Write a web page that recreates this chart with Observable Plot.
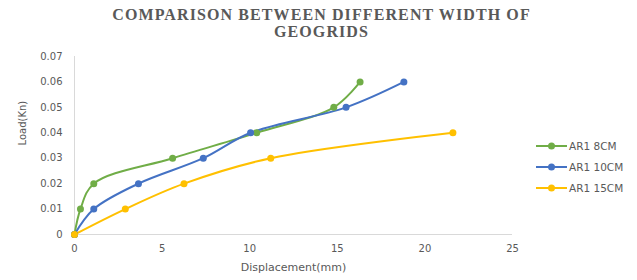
<!DOCTYPE html>
<html>
<head>
<meta charset="utf-8">
<script src="https://cdn.jsdelivr.net/npm/d3@7"></script>
<script src="https://cdn.jsdelivr.net/npm/@observablehq/plot@0.6"></script>
<style>
  html, body { margin: 0; padding: 0; background: #fff; }
  #wrap { position: relative; width: 637px; height: 280px; overflow: hidden; }
  #title { font-family: "Liberation Serif", "DejaVu Serif", serif; font-weight: bold; font-size: 16px; letter-spacing: 1.1px; color: #595959; text-align: center; line-height: 17px; padding-top: 6px; height: 42px; width: 637px; padding-left: 6px; box-sizing: border-box; }
  #legend { position: absolute; left: 536px; top: 135px; font-family: "DejaVu Sans", sans-serif; font-size: 10.5px; color: #595959; }
  .item { display: flex; align-items: center; height: 21px; }
  .item svg { margin-right: 2px; }
</style>
</head>
<body>
<div id="wrap">
  <div id="title">COMPARISON BETWEEN DIFFERENT WIDTH OF<br>GEOGRIDS</div>
  <div id="chart"></div>
  <div id="legend"></div>
</div>
<script>
const seriesNames = ["AR1 8CM", "AR1 10CM", "AR1 15CM"];
const seriesColors = ["#70AD47", "#4472C4", "#FFC000"];
const disp8 = [0, 0.34, 1.1, 5.6, 10.4, 14.8, 16.3];
const load8 = [0, 0.01, 0.02, 0.03, 0.04, 0.05, 0.06];
const disp10 = [0, 1.1, 3.65, 7.35, 10.05, 15.5, 18.8];
const load10 = [0, 0.01, 0.02, 0.03, 0.04, 0.05, 0.06];
const disp15 = [0, 2.9, 6.25, 11.2, 21.6];
const load15 = [0, 0.01, 0.02, 0.03, 0.04];
const xTicks = [0, 5, 10, 15, 20, 25];
const yTicks = [0, 0.01, 0.02, 0.03, 0.04, 0.05, 0.06, 0.07];
const xLabel = "Displacement(mm)";
const yLabel = "Load(Kn)";

const raw = [[disp8, load8], [disp10, load10], [disp15, load15]];
const data = raw.flatMap(([xs, ys], i) => xs.map((x, j) => ({series: seriesNames[i], x, y: ys[j]})));

const font = "DejaVu Sans, sans-serif";
const chart = Plot.plot({
  width: 637,
  height: 238,
  marginLeft: 74,
  marginRight: 125,
  marginTop: 14,
  marginBottom: 46,
  style: {fontFamily: font, fontSize: "10px", color: "#595959", background: "#fff"},
  x: {domain: [0, 25], ticks: xTicks},
  y: {domain: [0, 0.07], ticks: yTicks},
  color: {domain: seriesNames, range: seriesColors},
  marks: [
    Plot.ruleY([0], {stroke: "#d9d9d9", strokeWidth: 1}),
    Plot.ruleX([0], {stroke: "#d9d9d9", strokeWidth: 1}),
    Plot.axisX({ticks: xTicks, tickSize: 0, tickPadding: 10, label: null, fill: "#595959"}),
    Plot.axisY({ticks: yTicks, tickSize: 0, tickPadding: 12, tickFormat: d => d === 0 ? "0" : d.toFixed(2), label: null, fill: "#595959"}),
    Plot.text([xLabel], {text: d => d, frameAnchor: "bottom", dy: 36, fill: "#595959", fontSize: 11}),
    Plot.text([yLabel], {text: d => d, frameAnchor: "left", rotate: -90, dx: -52, dy: 0, fill: "#595959", fontSize: 10}),
    Plot.line(data, {x: "x", y: "y", z: "series", stroke: "series", strokeWidth: 2, curve: "catmull-rom"}),
    Plot.dot(data, {x: "x", y: "y", fill: "series", r: 3.5})
  ]
});
document.getElementById("chart").appendChild(chart);

const legend = document.getElementById("legend");
seriesNames.forEach((name, i) => {
  const div = document.createElement("div");
  div.className = "item";
  div.innerHTML = `<svg width="31" height="10"><line x1="0" y1="5" x2="31" y2="5" stroke="${seriesColors[i]}" stroke-width="2"/><circle cx="15.5" cy="5" r="3.5" fill="${seriesColors[i]}"/></svg><span>${name}</span>`;
  legend.appendChild(div);
});
</script>
</body>
</html>
